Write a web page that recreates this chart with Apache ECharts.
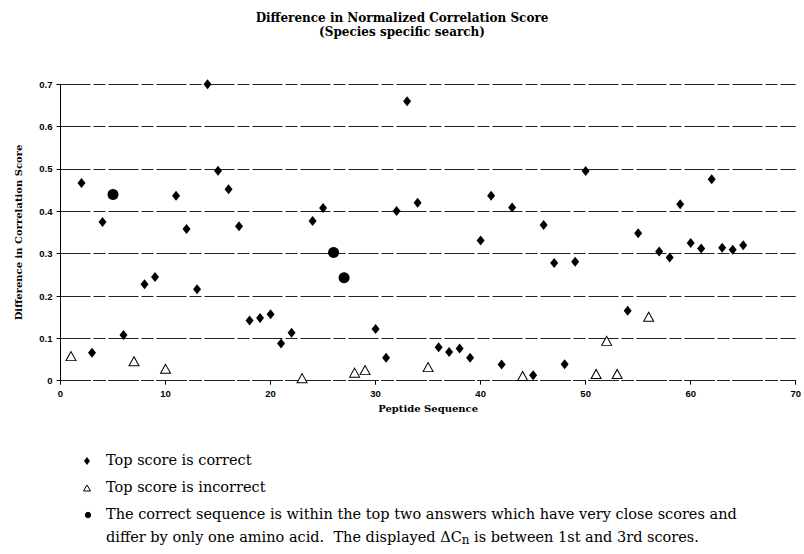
<!DOCTYPE html>
<html>
<head>
<meta charset="utf-8">
<script src="https://cdn.jsdelivr.net/npm/echarts@6/dist/echarts.min.js"></script>
<style>html,body{margin:0;padding:0;background:#fff;}#c{width:804px;height:554px;}</style>
</head>
<body>
<div id="c"></div>
<script>
// Peptide sequence index and difference in correlation score, per group
const correctSeq = [2,3,4,6,8,9,11,12,13,14,15,16,17,18,19,20,21,22,24,25,30,31,32,33,34,36,37,38,39,40,41,42,43,45,46,47,48,49,50,54,55,57,58,59,60,61,62,63,64,65];
const correctScore = [0.467,0.066,0.375,0.108,0.228,0.245,0.437,0.358,0.216,0.70,0.496,0.452,0.365,0.142,0.148,0.157,0.088,0.113,0.377,0.408,0.122,0.054,0.401,0.66,0.42,0.079,0.068,0.076,0.054,0.331,0.437,0.038,0.409,0.013,0.368,0.278,0.039,0.281,0.495,0.165,0.348,0.305,0.291,0.417,0.325,0.312,0.476,0.314,0.309,0.320];
const incorrectSeq = [1,7,10,23,28,29,35,44,51,52,53,56];
const incorrectScore = [0.058,0.046,0.028,0.006,0.019,0.025,0.032,0.011,0.016,0.094,0.016,0.151];
const closeSeq = [5,26,27];
const closeScore = [0.44,0.303,0.243];

const titleLines = ['Difference in Normalized Correlation Score', '(Species specific search)'];
const xName = 'Peptide Sequence';
const yName = 'Difference in Correlation Score';
const legendNames = ['Top score is correct', 'Top score is incorrect'];

const pairs = (xs, ys) => xs.map((x, i) => [x, ys[i]]);
const serif = '"DejaVu Serif", "Liberation Serif", serif';
const sans = '"Liberation Sans", Arial, sans-serif';
const gridLine = { color: '#222', width: 1, type: [30, 3, 12, 3] };
const legFont = '14.5px ' + serif;

const chart = echarts.init(document.getElementById('c'), null, { renderer: 'svg' });
chart.setOption({
  backgroundColor: '#fff',
  animation: false,
  title: {
    text: titleLines.join('\n'),
    left: 'center',
    top: 6,
    textStyle: { fontFamily: serif, fontWeight: 'bold', fontSize: 12, color: '#000', lineHeight: 14 }
  },
  grid: { left: 60.5, right: 5, top: 84.3, bottom: 173.3 },
  xAxis: {
    type: 'value', min: 0, max: 70, interval: 10,
    name: xName, nameLocation: 'middle', nameGap: 20,
    nameTextStyle: { fontFamily: serif, fontWeight: 'bold', fontSize: 10, color: '#000' },
    axisLine: { show: true, lineStyle: gridLine },
    axisTick: { show: true, length: 4, lineStyle: { color: '#000' } },
    axisLabel: { fontFamily: sans, fontWeight: 'bold', fontSize: 9.5, color: '#000', margin: 8 },
    splitLine: { show: false }
  },
  yAxis: {
    type: 'value', min: 0, max: 0.7, interval: 0.1,
    name: yName, nameLocation: 'middle', nameGap: 37,
    nameTextStyle: { fontFamily: serif, fontWeight: 'bold', fontSize: 10, color: '#000' },
    axisLine: { show: true, lineStyle: { color: '#000', width: 1 } },
    axisTick: { show: true, length: 4, lineStyle: { color: '#000' } },
    axisLabel: { fontFamily: sans, fontWeight: 'bold', fontSize: 9.5, color: '#000', margin: 8 },
    splitLine: { show: true, lineStyle: gridLine }
  },
  series: [
    {
      name: legendNames[0], type: 'scatter', symbol: 'diamond', symbolSize: [8, 10],
      itemStyle: { color: '#000', opacity: 1 }, data: pairs(correctSeq, correctScore)
    },
    {
      name: legendNames[1], type: 'scatter', symbol: 'triangle', symbolSize: [10, 9],
      itemStyle: { color: '#fff', borderColor: '#000', borderWidth: 1, opacity: 1 }, data: pairs(incorrectSeq, incorrectScore)
    },
    {
      name: 'close', type: 'scatter', symbol: 'circle', symbolSize: 11,
      itemStyle: { color: '#000', opacity: 1 }, data: pairs(closeSeq, closeScore)
    }
  ],
  graphic: [
    { type: 'polygon', shape: { points: [[87, 457], [90, 461], [87, 465], [84, 461]] }, style: { fill: '#000' } },
    { type: 'polygon', shape: { points: [[87, 485], [90.5, 491], [83.5, 491]] }, style: { fill: '#fff', stroke: '#000', lineWidth: 1 } },
    { type: 'circle', shape: { cx: 88, cy: 515, r: 3.2 }, style: { fill: '#000' } },
    { type: 'text', left: 106, top: 452, style: { text: legendNames[0], font: legFont, fill: '#000' } },
    { type: 'text', left: 106, top: 479, style: { text: legendNames[1], font: legFont, fill: '#000' } },
    { type: 'text', left: 106, top: 506, style: { text: 'The correct sequence is within the top two answers which have very close scores and', font: legFont, fill: '#000' } },
    { type: 'text', left: 106, top: 529, style: {
        text: '{a|differ by only one amino acid.  The displayed ΔC}{s|n}{a| is between 1st and 3rd scores.}',
        rich: {
          a: { fontFamily: serif, fontSize: 14.5, color: '#000', lineHeight: 19, verticalAlign: 'middle' },
          s: { fontFamily: serif, fontSize: 12, color: '#000', lineHeight: 11, verticalAlign: 'bottom' }
        }
      } }
  ]
});
</script>
</body>
</html>
